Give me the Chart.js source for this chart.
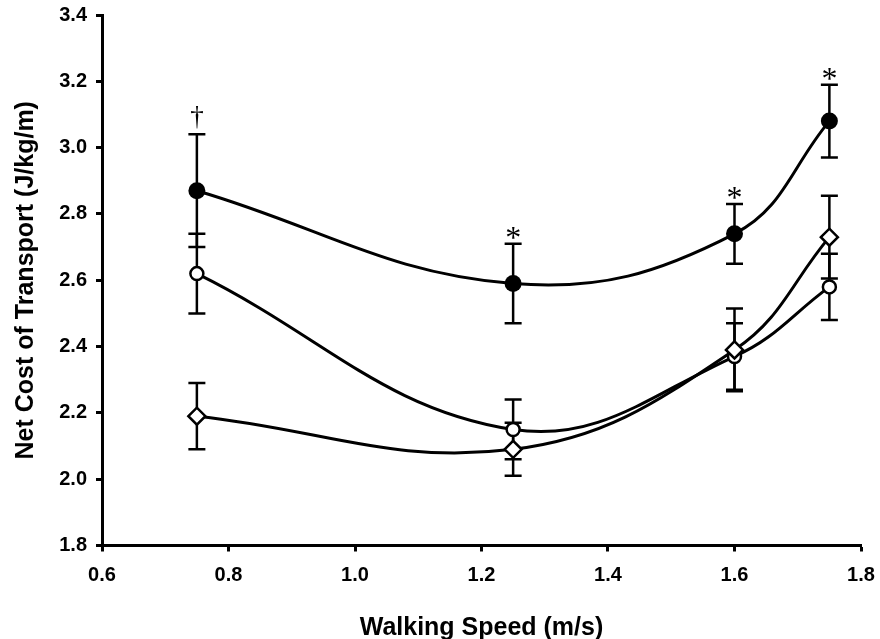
<!DOCTYPE html>
<html>
<head>
<meta charset="utf-8">
<script src="https://cdn.jsdelivr.net/npm/chart.js@4.4.1/dist/chart.umd.min.js"></script>
<style>
  html, body { margin: 0; padding: 0; background: #fff; }
  #chart { display: block; }
</style>
</head>
<body>
<canvas id="chart" width="880" height="639"></canvas>
<script>
// walking speeds (m/s)
const speeds = [0.75, 1.25, 1.6, 1.75];

// filled circles
const filledMean = [2.87, 2.59, 2.74, 3.08];
const filledErr = [0.17, 0.12, 0.09, 0.11];
// open circles
const openMean = [2.62, 2.15, 2.37, 2.58];
const openErr = [0.12, 0.09, 0.10, 0.10];
// open diamonds
const diamondMean = [2.19, 2.09, 2.39, 2.73];
const diamondErr = [0.10, 0.08, 0.125, 0.125];

// marks above the filled-circle error bars
const sigMarks = ['†', '*', '*', '*'];

const xTicks = [0.6, 0.8, 1.0, 1.2, 1.4, 1.6, 1.8];
const yTicks = [1.8, 2.0, 2.2, 2.4, 2.6, 2.8, 3.0, 3.2, 3.4];

const toPoints = (ys) => speeds.map((s, i) => ({ x: s, y: ys[i] }));

const tickFont = { family: 'Liberation Sans, Arial, sans-serif', size: 20, weight: 'bold' };
const titleFont = { family: 'Liberation Sans, Arial, sans-serif', size: 25, weight: 'bold', lineHeight: 1.2 };

// error bars under the markers, significance marks on top
const errorBarPlugin = {
    id: 'errorBars',
    beforeDatasetsDraw(chart) {
        const { ctx, scales: { x, y } } = chart;
        ctx.save();
        ctx.strokeStyle = '#000';
        ctx.lineWidth = 2.5;
        chart.data.datasets.forEach(ds => {
            ds.data.forEach((pt, i) => {
                const e = ds.errors[i];
                const px = x.getPixelForValue(pt.x);
                const top = y.getPixelForValue(pt.y + e);
                const bot = y.getPixelForValue(pt.y - e);
                ctx.beginPath();
                ctx.moveTo(px, top); ctx.lineTo(px, bot);
                ctx.moveTo(px - 8.5, top); ctx.lineTo(px + 8.5, top);
                ctx.moveTo(px - 8.5, bot); ctx.lineTo(px + 8.5, bot);
                ctx.stroke();
            });
        });
        ctx.restore();
    },
    afterDatasetsDraw(chart) {
        const { ctx, scales: { x, y } } = chart;
        ctx.save();
        ctx.fillStyle = '#000';
        ctx.textAlign = 'center';
        ctx.textBaseline = 'alphabetic';
        sigMarks.forEach((m, i) => {
            ctx.font = (m === '*' ? '32px' : '27px') + ' "Liberation Serif", "Times New Roman", serif';
            const px = x.getPixelForValue(speeds[i]);
            const top = y.getPixelForValue(filledMean[i] + filledErr[i]);
            const met = ctx.measureText(m);
            // ink bottom sits a few px above the cap
            ctx.fillText(m, px, top - 5 - met.actualBoundingBoxDescent);
        });
        ctx.restore();
    }
};

const ctx = document.getElementById('chart').getContext('2d');
new Chart(ctx, {
    type: 'line',
    data: {
        datasets: [{
            label: 'filled',
            data: toPoints(filledMean),
            errors: filledErr,
            borderColor: '#000',
            borderWidth: 3,
            pointStyle: 'circle',
            pointRadius: 8.5,
            pointBorderWidth: 0,
            pointBackgroundColor: '#000',
            tension: 0.4,
            order: 2
        }, {
            label: 'open',
            data: toPoints(openMean),
            errors: openErr,
            borderColor: '#000',
            borderWidth: 3,
            pointStyle: 'circle',
            pointRadius: 6.5,
            pointBorderWidth: 2.5,
            pointBorderColor: '#000',
            pointBackgroundColor: '#fff',
            tension: 0.4,
            order: 1
        }, {
            label: 'diamond',
            data: toPoints(diamondMean),
            errors: diamondErr,
            borderColor: '#000',
            borderWidth: 3,
            pointStyle: 'rectRot',
            pointRadius: 8.5,
            pointBorderWidth: 2.5,
            pointBorderColor: '#000',
            pointBackgroundColor: '#fff',
            tension: 0.4,
            order: 0
        }]
    },
    options: {
        responsive: false,
        animation: false,
        layout: { padding: { left: 0, top: 15, right: 19, bottom: 0 } },
        plugins: {
            legend: { display: false },
            tooltip: { enabled: false }
        },
        scales: {
            x: {
                type: 'linear',
                min: 0.6,
                max: 1.8,
                afterBuildTicks: (scale) => { scale.ticks = xTicks.map(v => ({ value: v })); },
                afterFit: (scale) => {
                    scale.height = 93.5;
                    scale.paddingLeft = 0;
                    scale.paddingRight = 0;
                },
                border: { display: true, color: '#000', width: 3 },
                grid: { drawOnChartArea: false, drawTicks: true, tickLength: 6, tickWidth: 3, tickColor: '#000' },
                ticks: {
                    color: '#000',
                    font: tickFont,
                    padding: 12,
                    maxRotation: 0,
                    callback: (v) => v.toFixed(1)
                },
                title: {
                    display: true,
                    text: 'Walking Speed (m/s)',
                    color: '#000',
                    font: titleFont,
                    padding: { top: 0, bottom: -4 }
                }
            },
            y: {
                type: 'linear',
                min: 1.8,
                max: 3.4,
                afterBuildTicks: (scale) => { scale.ticks = yTicks.map(v => ({ value: v })); },
                afterFit: (scale) => {
                    scale.width = 102;
                    scale.paddingTop = 0;
                    scale.paddingBottom = 0;
                },
                border: { display: true, color: '#000', width: 3 },
                grid: { drawOnChartArea: false, drawTicks: true, tickLength: 6, tickWidth: 3, tickColor: '#000' },
                ticks: {
                    color: '#000',
                    font: tickFont,
                    padding: 9,
                    callback: (v) => v.toFixed(1)
                },
                title: {
                    display: true,
                    text: 'Net Cost of Transport (J/kg/m)',
                    color: '#000',
                    font: titleFont,
                    padding: { top: 11, bottom: 0 }
                }
            }
        }
    },
    plugins: [errorBarPlugin]
});
</script>
</body>
</html>
